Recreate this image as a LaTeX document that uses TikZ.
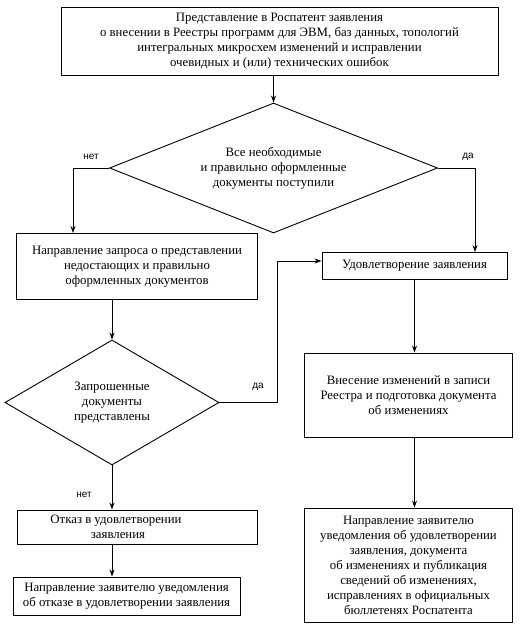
\documentclass[tikz,border=0pt]{standalone}
\usepackage{fontspec}
\setmainfont{Liberation Serif}
\newfontfamily\lblfont{Liberation Sans}
\usetikzlibrary{shapes.geometric,arrows.meta,calc}
\begin{document}
\begin{tikzpicture}[x=1pt,y=-1pt,
  box/.style={draw,line width=0.9pt,align=center,inner sep=0pt,font=\fontsize{12.8}{15}\selectfont},
  dia/.style={draw,diamond,line width=0.9pt,align=center,inner sep=0pt,aspect=2,font=\fontsize{12.8}{15}\selectfont},
  arr/.style={line width=0.9pt,-{Stealth[length=7pt,width=5pt]}},
  lbl/.style={font=\lblfont\fontsize{10}{11}\selectfont}]
\useasboundingbox (0,0) rectangle (522,639);
\node[box,minimum width=437pt,minimum height=68pt] (top) at (279.5,41) {Представление в Роспатент заявления\\о внесении в Реестры программ для ЭВМ, баз данных, топологий\\интегральных микросхем изменений и исправлении\\очевидных и (или) технических ошибок};
\node[dia,minimum width=328pt,minimum height=130pt] (d1) at (273.5,168) {Все необходимые\\и правильно оформленные\\документы поступили};
\node[box,minimum width=241pt,minimum height=66pt] (req) at (137,266.5) {Направление запроса о представлении\\недостающих и правильно\\оформленных документов};
\node[box,minimum width=185pt,minimum height=27pt] (sat) at (414.5,266) {Удовлетворение заявления};
\node[dia,minimum width=214pt,minimum height=125pt,aspect=1.7] (d2) at (112,402.5) {Запрошенные\\документы\\представлены};
\node[box,minimum width=208pt,minimum height=84pt] (rec) at (408.5,395) {Внесение изменений в записи\\Реестра и подготовка документа\\об изменениях};
\node[box,minimum width=208pt,minimum height=114pt] (notify) at (408.5,565) {Направление заявителю\\уведомления об удовлетворении\\заявления, документа\\об изменениях и публикация\\сведений об изменениях,\\исправлениях в официальных\\бюллетенях Роспатента};
\node[box,minimum width=240pt,minimum height=34pt] (refuse) at (137,527) {Отказ в удовлетворении\hspace*{42pt}\\заявления\hspace*{38pt}};
\node[box,minimum width=227pt,minimum height=38pt] (notref) at (126.5,596) {Направление заявителю уведомления\\об отказе в удовлетворении заявления};
\draw[arr] (top.south -| d1.north) -- (d1.north);
\draw[arr] (d1.west) -| ([xshift=-64pt]req.north);
\draw[arr] (d1.east) -| ([xshift=60.5pt]sat.north);
\draw[arr] (req.south -| d2.north) -- (d2.north);
\draw[arr] (d2.east) -- ++(58,0) |- ([yshift=5pt]sat.west);
\draw[arr] (d2.south) -- (d2.south |- refuse.north);
\draw[arr] (refuse.south -| d2.south) -- (notref.north -| d2.south);
\draw[arr] (sat.south) -- (sat.south |- rec.north);
\draw[arr] (rec.south -| sat.south) -- (notify.north -| sat.south);
\node[lbl] (l1) at (91,157) {нет};
\node[lbl] (l2) at (468,157) {да};
\node[lbl] (l3) at (258,387) {да};
\node[lbl] (l4) at (84,495) {нет};
\end{tikzpicture}
\end{document}
